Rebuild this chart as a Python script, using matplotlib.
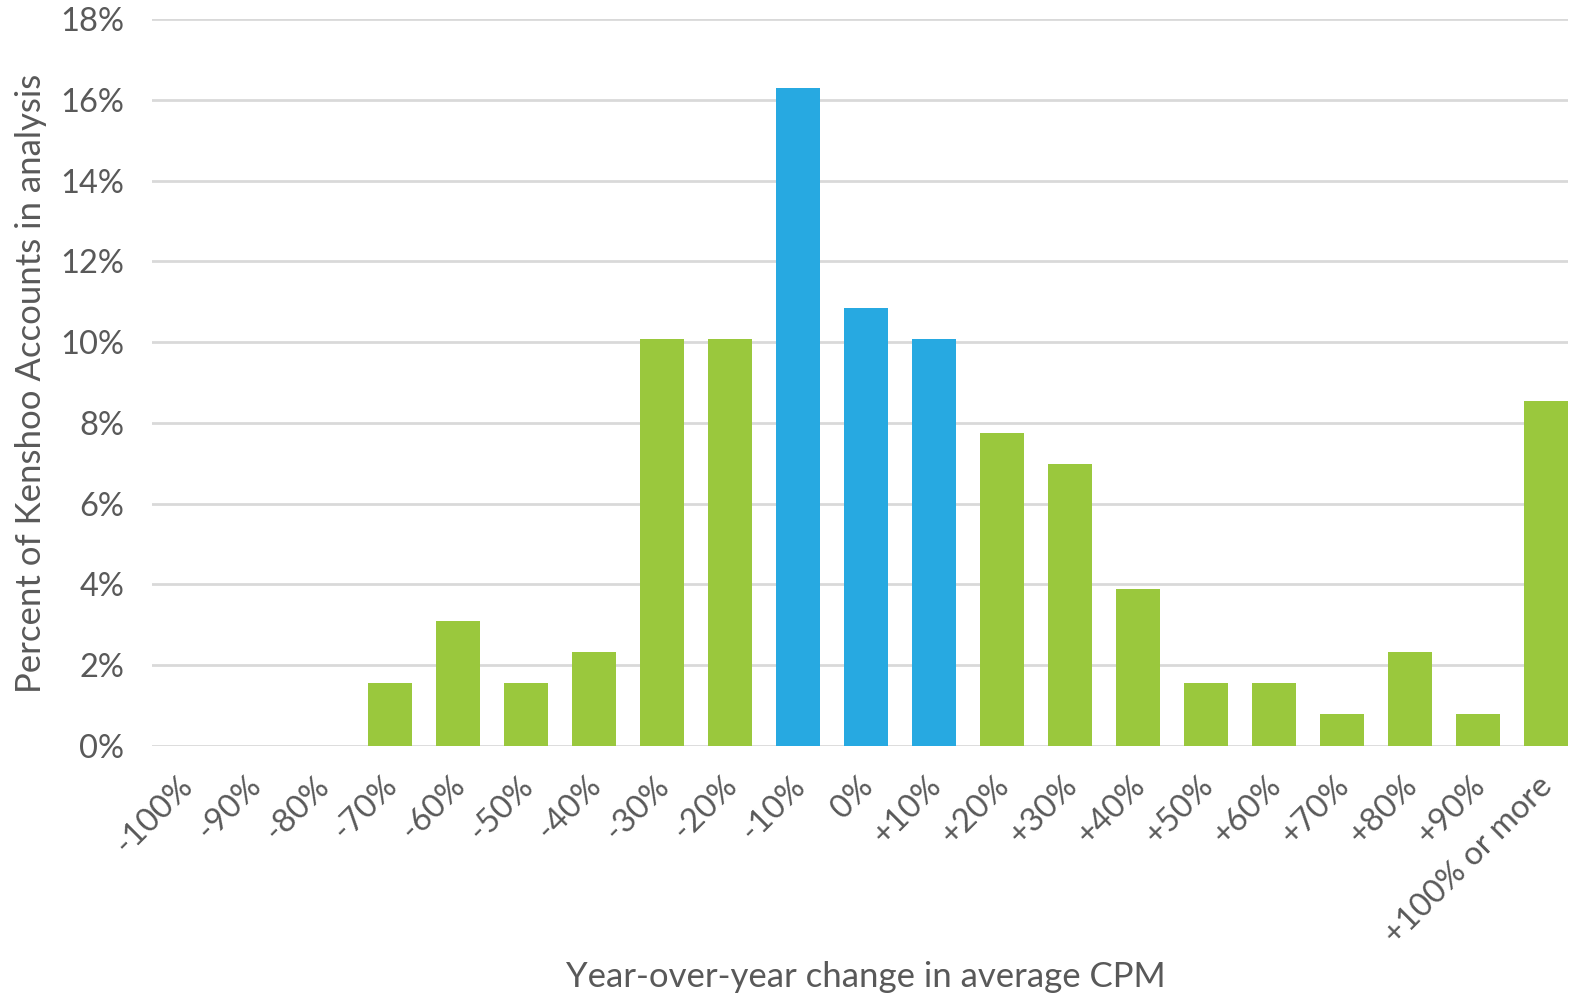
import numpy as np
import matplotlib.pyplot as plt

plt.rcParams['font.family'] = ['Lato', 'DejaVu Sans']

categories = ['-100%', '-90%', '-80%', '-70%', '-60%', '-50%', '-40%', '-30%', '-20%', '-10%',
              '0%', '+10%', '+20%', '+30%', '+40%', '+50%', '+60%', '+70%', '+80%', '+90%',
              '+100% or more']
share = [0, 0, 0, 1.55, 3.10, 1.55, 2.33, 10.08, 10.08, 16.28,
         10.85, 10.08, 7.75, 6.98, 3.88, 1.55, 1.55, 0.78, 2.33, 0.78,
         8.53]
highlight = ['-10%', '0%', '+10%']

green = '#9ac83d'
blue = '#27a9e1'
text_col = '#595959'

fig = plt.figure(figsize=(15.7, 10.01), dpi=100)
ax = fig.add_axes([152 / 1570, 1 - 746 / 1001, (1568 - 152) / 1570, (746 - 19) / 1001])

x = np.arange(len(categories))
colors = [blue if c in highlight else green for c in categories]
ax.bar(x, share, width=0.66, color=colors, zorder=3)

ax.set_ylim(0, 18)
ax.set_xlim(-0.5, -0.5 + (1568 - 152) / 68)
ax.set_yticks(np.arange(0, 19, 2))
ax.set_yticklabels([f'{v}%' for v in range(0, 19, 2)])
ax.yaxis.grid(True, color='#d9d9d9', linewidth=2, zorder=0)
for s in ax.spines.values():
    s.set_visible(False)
ax.tick_params(length=0, labelsize=23.5, labelcolor=text_col)
ax.tick_params(axis='y', pad=20)

ax.set_xticks(x)
ax.set_xticklabels(categories, rotation=45, ha='right', va='center_baseline',
                   rotation_mode='anchor')
ax.tick_params(axis='x', pad=24)

ax.set_ylabel('Percent of Kenshoo Accounts in analysis', fontsize=25, color=text_col)
ax.set_xlabel('Year-over-year change in average CPM', fontsize=25, color=text_col)
ax.xaxis.set_label_coords((866 - 152) / (1568 - 152), -(961 - 746) / (746 - 19))
ax.yaxis.set_label_coords(-(152 - 47) / (1568 - 152), (746 - 383) / (746 - 19))

fig.savefig('out.png', dpi=100)
